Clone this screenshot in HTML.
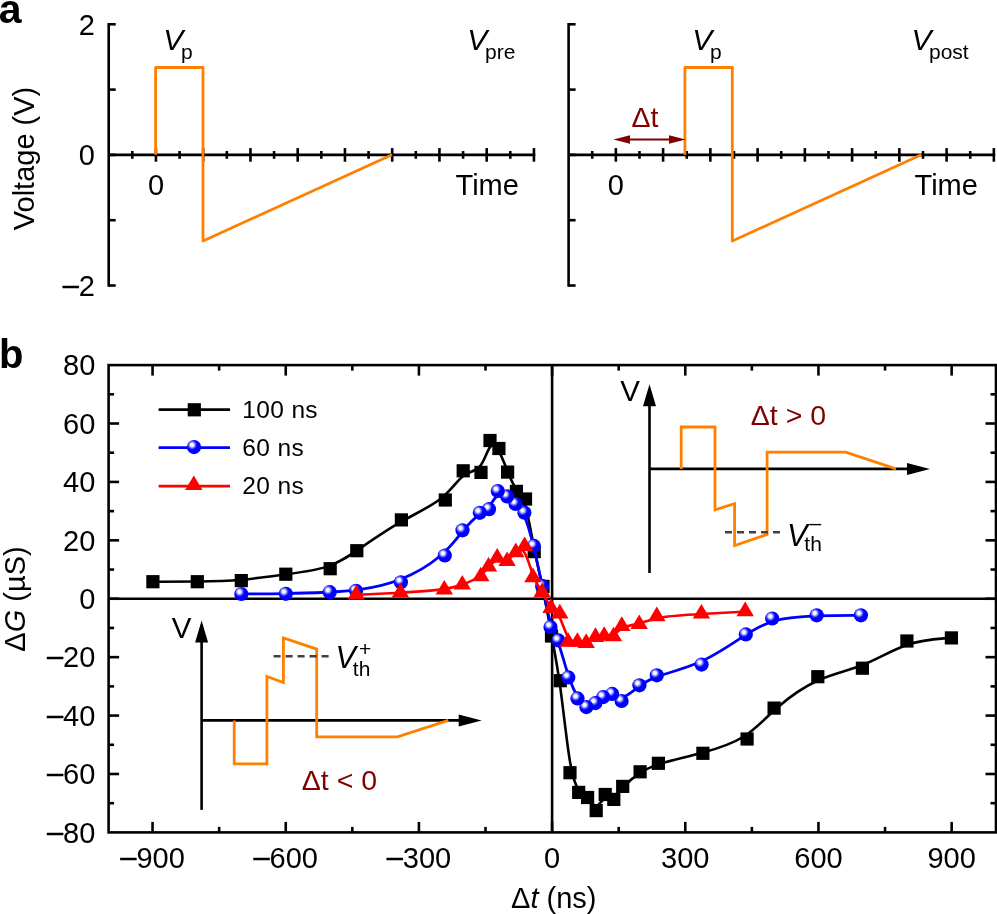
<!DOCTYPE html>
<html><head><meta charset="utf-8"><title>Figure</title>
<style>
html,body{margin:0;padding:0;background:#fff;}
body{width:997px;height:914px;overflow:hidden;}
svg{display:block;font-family:"Liberation Sans", sans-serif;will-change:transform;}
</style></head>
<body>
<svg width="997" height="914" viewBox="0 0 997 914">
<defs>
<radialGradient id="sph" cx="0.38" cy="0.36" r="0.62" fx="0.36" fy="0.34">
<stop offset="0" stop-color="#FFFFFF"/>
<stop offset="0.18" stop-color="#F4F4FF"/>
<stop offset="0.48" stop-color="#2020FF"/>
<stop offset="0.58" stop-color="#0000FF"/>
<stop offset="1" stop-color="#0000FF"/>
</radialGradient>
</defs>
<rect width="997" height="914" fill="#fff"/>
<text x="-1.20" y="23.20" font-size="41" font-weight="bold" fill="#000" >a</text>
<line x1="108.70" y1="23.00" x2="108.70" y2="286.80" stroke="#000" stroke-width="2.6" />
<line x1="108.70" y1="24.30" x2="115.70" y2="24.30" stroke="#000" stroke-width="2.6" />
<line x1="108.70" y1="89.60" x2="115.70" y2="89.60" stroke="#000" stroke-width="2.6" />
<line x1="108.70" y1="154.90" x2="115.70" y2="154.90" stroke="#000" stroke-width="2.6" />
<line x1="108.70" y1="220.20" x2="115.70" y2="220.20" stroke="#000" stroke-width="2.6" />
<line x1="108.70" y1="285.50" x2="115.70" y2="285.50" stroke="#000" stroke-width="2.6" />
<line x1="108.70" y1="154.90" x2="535.25" y2="154.90" stroke="#000" stroke-width="2.6" />
<line x1="155.95" y1="148.10" x2="155.95" y2="161.70" stroke="#000" stroke-width="2.6" />
<line x1="203.20" y1="148.10" x2="203.20" y2="161.70" stroke="#000" stroke-width="2.6" />
<line x1="250.45" y1="148.10" x2="250.45" y2="161.70" stroke="#000" stroke-width="2.6" />
<line x1="297.70" y1="148.10" x2="297.70" y2="161.70" stroke="#000" stroke-width="2.6" />
<line x1="344.95" y1="148.10" x2="344.95" y2="161.70" stroke="#000" stroke-width="2.6" />
<line x1="392.20" y1="148.10" x2="392.20" y2="161.70" stroke="#000" stroke-width="2.6" />
<line x1="439.45" y1="148.10" x2="439.45" y2="161.70" stroke="#000" stroke-width="2.6" />
<line x1="486.70" y1="148.10" x2="486.70" y2="161.70" stroke="#000" stroke-width="2.6" />
<line x1="533.95" y1="148.10" x2="533.95" y2="161.70" stroke="#000" stroke-width="2.6" />
<line x1="132.32" y1="151.00" x2="132.32" y2="158.80" stroke="#000" stroke-width="2.6" />
<line x1="179.57" y1="151.00" x2="179.57" y2="158.80" stroke="#000" stroke-width="2.6" />
<line x1="226.82" y1="151.00" x2="226.82" y2="158.80" stroke="#000" stroke-width="2.6" />
<line x1="274.07" y1="151.00" x2="274.07" y2="158.80" stroke="#000" stroke-width="2.6" />
<line x1="321.32" y1="151.00" x2="321.32" y2="158.80" stroke="#000" stroke-width="2.6" />
<line x1="368.57" y1="151.00" x2="368.57" y2="158.80" stroke="#000" stroke-width="2.6" />
<line x1="415.82" y1="151.00" x2="415.82" y2="158.80" stroke="#000" stroke-width="2.6" />
<line x1="463.07" y1="151.00" x2="463.07" y2="158.80" stroke="#000" stroke-width="2.6" />
<line x1="510.32" y1="151.00" x2="510.32" y2="158.80" stroke="#000" stroke-width="2.6" />
<line x1="568.60" y1="23.00" x2="568.60" y2="286.80" stroke="#000" stroke-width="2.6" />
<line x1="568.60" y1="24.30" x2="575.60" y2="24.30" stroke="#000" stroke-width="2.6" />
<line x1="568.60" y1="89.60" x2="575.60" y2="89.60" stroke="#000" stroke-width="2.6" />
<line x1="568.60" y1="154.90" x2="575.60" y2="154.90" stroke="#000" stroke-width="2.6" />
<line x1="568.60" y1="220.20" x2="575.60" y2="220.20" stroke="#000" stroke-width="2.6" />
<line x1="568.60" y1="285.50" x2="575.60" y2="285.50" stroke="#000" stroke-width="2.6" />
<line x1="568.60" y1="154.90" x2="995.15" y2="154.90" stroke="#000" stroke-width="2.6" />
<line x1="615.85" y1="148.10" x2="615.85" y2="161.70" stroke="#000" stroke-width="2.6" />
<line x1="663.10" y1="148.10" x2="663.10" y2="161.70" stroke="#000" stroke-width="2.6" />
<line x1="710.35" y1="148.10" x2="710.35" y2="161.70" stroke="#000" stroke-width="2.6" />
<line x1="757.60" y1="148.10" x2="757.60" y2="161.70" stroke="#000" stroke-width="2.6" />
<line x1="804.85" y1="148.10" x2="804.85" y2="161.70" stroke="#000" stroke-width="2.6" />
<line x1="852.10" y1="148.10" x2="852.10" y2="161.70" stroke="#000" stroke-width="2.6" />
<line x1="899.35" y1="148.10" x2="899.35" y2="161.70" stroke="#000" stroke-width="2.6" />
<line x1="946.60" y1="148.10" x2="946.60" y2="161.70" stroke="#000" stroke-width="2.6" />
<line x1="993.85" y1="148.10" x2="993.85" y2="161.70" stroke="#000" stroke-width="2.6" />
<line x1="592.23" y1="151.00" x2="592.23" y2="158.80" stroke="#000" stroke-width="2.6" />
<line x1="639.48" y1="151.00" x2="639.48" y2="158.80" stroke="#000" stroke-width="2.6" />
<line x1="686.73" y1="151.00" x2="686.73" y2="158.80" stroke="#000" stroke-width="2.6" />
<line x1="733.98" y1="151.00" x2="733.98" y2="158.80" stroke="#000" stroke-width="2.6" />
<line x1="781.23" y1="151.00" x2="781.23" y2="158.80" stroke="#000" stroke-width="2.6" />
<line x1="828.48" y1="151.00" x2="828.48" y2="158.80" stroke="#000" stroke-width="2.6" />
<line x1="875.73" y1="151.00" x2="875.73" y2="158.80" stroke="#000" stroke-width="2.6" />
<line x1="922.98" y1="151.00" x2="922.98" y2="158.80" stroke="#000" stroke-width="2.6" />
<line x1="970.23" y1="151.00" x2="970.23" y2="158.80" stroke="#000" stroke-width="2.6" />
<text x="95.00" y="34.50" font-size="29" text-anchor="end" fill="#000" >2</text>
<text x="95.00" y="165.20" font-size="29" text-anchor="end" fill="#000" >0</text>
<text x="95.00" y="295.80" font-size="29" text-anchor="end" fill="#000" ><tspan dy="-0.9" stroke="#000" stroke-width="0.45">&#8211;</tspan><tspan dy="0.9">2</tspan></text>
<text transform="translate(34.1,158.5) rotate(-90)" font-size="29" text-anchor="middle">Voltage (V)</text>
<text x="156.00" y="194.80" font-size="29" text-anchor="middle" fill="#000" >0</text>
<text x="615.80" y="194.80" font-size="29" text-anchor="middle" fill="#000" >0</text>
<text x="455.50" y="194.80" font-size="29" fill="#000" >Time</text>
<text x="914.50" y="194.80" font-size="29" fill="#000" >Time</text>
<text x="163.30" y="49.80" font-size="30" font-style="italic">V</text>
<text x="181.00" y="58.50" font-size="21">p</text>
<text x="467.30" y="50.20" font-size="30" font-style="italic">V</text>
<text x="485.00" y="58.90" font-size="21">pre</text>
<text x="692.30" y="49.80" font-size="30" font-style="italic">V</text>
<text x="710.00" y="58.50" font-size="21">p</text>
<text x="911.50" y="50.20" font-size="30" font-style="italic">V</text>
<text x="929.00" y="58.60" font-size="21">post</text>
<path d="M155.60,154.80 L155.60,67.50 L203.00,67.50 L203.00,241.00 L392.00,154.80" fill="none" stroke="#FF8000" stroke-width="2.8" stroke-linejoin="round"/>
<path d="M684.90,154.80 L684.90,67.50 L732.30,67.50 L732.30,241.00 L921.30,154.80" fill="none" stroke="#FF8000" stroke-width="2.8" stroke-linejoin="round"/>
<line x1="622" y1="139.5" x2="677" y2="139.5" stroke="#800000" stroke-width="2"/>
<path d="M613.4,139.5 L630,135.3 L630,143.7 Z" fill="#800000"/>
<path d="M685.6,139.5 L669,135.3 L669,143.7 Z" fill="#800000"/>
<text x="631.50" y="127.00" font-size="28.5" fill="#800000" >&#916;t</text>
<text x="-1.00" y="367.80" font-size="40" font-weight="bold" fill="#000" >b</text>
<rect x="108.6" y="365.1" width="887.4" height="467.29999999999995" fill="none" stroke="#000" stroke-width="2.6"/>
<line x1="152.55" y1="832.40" x2="152.55" y2="821.90" stroke="#000" stroke-width="2.6" />
<line x1="152.55" y1="365.10" x2="152.55" y2="375.60" stroke="#000" stroke-width="2.6" />
<line x1="285.74" y1="832.40" x2="285.74" y2="821.90" stroke="#000" stroke-width="2.6" />
<line x1="285.74" y1="365.10" x2="285.74" y2="375.60" stroke="#000" stroke-width="2.6" />
<line x1="418.92" y1="832.40" x2="418.92" y2="821.90" stroke="#000" stroke-width="2.6" />
<line x1="418.92" y1="365.10" x2="418.92" y2="375.60" stroke="#000" stroke-width="2.6" />
<line x1="552.10" y1="832.40" x2="552.10" y2="821.90" stroke="#000" stroke-width="2.6" />
<line x1="552.10" y1="365.10" x2="552.10" y2="375.60" stroke="#000" stroke-width="2.6" />
<line x1="685.28" y1="832.40" x2="685.28" y2="821.90" stroke="#000" stroke-width="2.6" />
<line x1="685.28" y1="365.10" x2="685.28" y2="375.60" stroke="#000" stroke-width="2.6" />
<line x1="818.46" y1="832.40" x2="818.46" y2="821.90" stroke="#000" stroke-width="2.6" />
<line x1="818.46" y1="365.10" x2="818.46" y2="375.60" stroke="#000" stroke-width="2.6" />
<line x1="951.65" y1="832.40" x2="951.65" y2="821.90" stroke="#000" stroke-width="2.6" />
<line x1="951.65" y1="365.10" x2="951.65" y2="375.60" stroke="#000" stroke-width="2.6" />
<line x1="219.15" y1="832.40" x2="219.15" y2="826.90" stroke="#000" stroke-width="2.6" />
<line x1="219.15" y1="365.10" x2="219.15" y2="370.60" stroke="#000" stroke-width="2.6" />
<line x1="352.33" y1="832.40" x2="352.33" y2="826.90" stroke="#000" stroke-width="2.6" />
<line x1="352.33" y1="365.10" x2="352.33" y2="370.60" stroke="#000" stroke-width="2.6" />
<line x1="485.51" y1="832.40" x2="485.51" y2="826.90" stroke="#000" stroke-width="2.6" />
<line x1="485.51" y1="365.10" x2="485.51" y2="370.60" stroke="#000" stroke-width="2.6" />
<line x1="618.69" y1="832.40" x2="618.69" y2="826.90" stroke="#000" stroke-width="2.6" />
<line x1="618.69" y1="365.10" x2="618.69" y2="370.60" stroke="#000" stroke-width="2.6" />
<line x1="751.87" y1="832.40" x2="751.87" y2="826.90" stroke="#000" stroke-width="2.6" />
<line x1="751.87" y1="365.10" x2="751.87" y2="370.60" stroke="#000" stroke-width="2.6" />
<line x1="885.06" y1="832.40" x2="885.06" y2="826.90" stroke="#000" stroke-width="2.6" />
<line x1="885.06" y1="365.10" x2="885.06" y2="370.60" stroke="#000" stroke-width="2.6" />
<line x1="108.60" y1="773.99" x2="119.10" y2="773.99" stroke="#000" stroke-width="2.6" />
<line x1="996.00" y1="773.99" x2="985.50" y2="773.99" stroke="#000" stroke-width="2.6" />
<line x1="108.60" y1="715.58" x2="119.10" y2="715.58" stroke="#000" stroke-width="2.6" />
<line x1="996.00" y1="715.58" x2="985.50" y2="715.58" stroke="#000" stroke-width="2.6" />
<line x1="108.60" y1="657.16" x2="119.10" y2="657.16" stroke="#000" stroke-width="2.6" />
<line x1="996.00" y1="657.16" x2="985.50" y2="657.16" stroke="#000" stroke-width="2.6" />
<line x1="108.60" y1="598.75" x2="119.10" y2="598.75" stroke="#000" stroke-width="2.6" />
<line x1="996.00" y1="598.75" x2="985.50" y2="598.75" stroke="#000" stroke-width="2.6" />
<line x1="108.60" y1="540.34" x2="119.10" y2="540.34" stroke="#000" stroke-width="2.6" />
<line x1="996.00" y1="540.34" x2="985.50" y2="540.34" stroke="#000" stroke-width="2.6" />
<line x1="108.60" y1="481.93" x2="119.10" y2="481.93" stroke="#000" stroke-width="2.6" />
<line x1="996.00" y1="481.93" x2="985.50" y2="481.93" stroke="#000" stroke-width="2.6" />
<line x1="108.60" y1="423.51" x2="119.10" y2="423.51" stroke="#000" stroke-width="2.6" />
<line x1="996.00" y1="423.51" x2="985.50" y2="423.51" stroke="#000" stroke-width="2.6" />
<line x1="108.60" y1="803.19" x2="114.10" y2="803.19" stroke="#000" stroke-width="2.6" />
<line x1="996.00" y1="803.19" x2="990.50" y2="803.19" stroke="#000" stroke-width="2.6" />
<line x1="108.60" y1="744.78" x2="114.10" y2="744.78" stroke="#000" stroke-width="2.6" />
<line x1="996.00" y1="744.78" x2="990.50" y2="744.78" stroke="#000" stroke-width="2.6" />
<line x1="108.60" y1="686.37" x2="114.10" y2="686.37" stroke="#000" stroke-width="2.6" />
<line x1="996.00" y1="686.37" x2="990.50" y2="686.37" stroke="#000" stroke-width="2.6" />
<line x1="108.60" y1="627.96" x2="114.10" y2="627.96" stroke="#000" stroke-width="2.6" />
<line x1="996.00" y1="627.96" x2="990.50" y2="627.96" stroke="#000" stroke-width="2.6" />
<line x1="108.60" y1="569.54" x2="114.10" y2="569.54" stroke="#000" stroke-width="2.6" />
<line x1="996.00" y1="569.54" x2="990.50" y2="569.54" stroke="#000" stroke-width="2.6" />
<line x1="108.60" y1="511.13" x2="114.10" y2="511.13" stroke="#000" stroke-width="2.6" />
<line x1="996.00" y1="511.13" x2="990.50" y2="511.13" stroke="#000" stroke-width="2.6" />
<line x1="108.60" y1="452.72" x2="114.10" y2="452.72" stroke="#000" stroke-width="2.6" />
<line x1="996.00" y1="452.72" x2="990.50" y2="452.72" stroke="#000" stroke-width="2.6" />
<line x1="108.60" y1="394.31" x2="114.10" y2="394.31" stroke="#000" stroke-width="2.6" />
<line x1="996.00" y1="394.31" x2="990.50" y2="394.31" stroke="#000" stroke-width="2.6" />
<line x1="552.10" y1="365.10" x2="552.10" y2="832.40" stroke="#000" stroke-width="2.6" />
<line x1="108.60" y1="598.75" x2="996.00" y2="598.75" stroke="#000" stroke-width="2.6" />
<text x="95.30" y="842.60" font-size="29" text-anchor="end" fill="#000" ><tspan dy="-0.9" stroke="#000" stroke-width="0.45">&#8211;</tspan><tspan dy="0.9">80</tspan></text>
<text x="95.30" y="784.19" font-size="29" text-anchor="end" fill="#000" ><tspan dy="-0.9" stroke="#000" stroke-width="0.45">&#8211;</tspan><tspan dy="0.9">60</tspan></text>
<text x="95.30" y="725.78" font-size="29" text-anchor="end" fill="#000" ><tspan dy="-0.9" stroke="#000" stroke-width="0.45">&#8211;</tspan><tspan dy="0.9">40</tspan></text>
<text x="95.30" y="667.36" font-size="29" text-anchor="end" fill="#000" ><tspan dy="-0.9" stroke="#000" stroke-width="0.45">&#8211;</tspan><tspan dy="0.9">20</tspan></text>
<text x="95.30" y="608.95" font-size="29" text-anchor="end" fill="#000" >0</text>
<text x="95.30" y="550.54" font-size="29" text-anchor="end" fill="#000" >20</text>
<text x="95.30" y="492.12" font-size="29" text-anchor="end" fill="#000" >40</text>
<text x="95.30" y="433.71" font-size="29" text-anchor="end" fill="#000" >60</text>
<text x="95.30" y="375.30" font-size="29" text-anchor="end" fill="#000" >80</text>
<text x="152.55" y="867.80" font-size="29" text-anchor="middle" fill="#000" ><tspan dy="-0.9" stroke="#000" stroke-width="0.45">&#8211;</tspan><tspan dy="0.9">900</tspan></text>
<text x="285.74" y="867.80" font-size="29" text-anchor="middle" fill="#000" ><tspan dy="-0.9" stroke="#000" stroke-width="0.45">&#8211;</tspan><tspan dy="0.9">600</tspan></text>
<text x="418.92" y="867.80" font-size="29" text-anchor="middle" fill="#000" ><tspan dy="-0.9" stroke="#000" stroke-width="0.45">&#8211;</tspan><tspan dy="0.9">300</tspan></text>
<text x="552.10" y="867.80" font-size="29" text-anchor="middle" fill="#000" >0</text>
<text x="685.28" y="867.80" font-size="29" text-anchor="middle" fill="#000" >300</text>
<text x="818.46" y="867.80" font-size="29" text-anchor="middle" fill="#000" >600</text>
<text x="951.65" y="867.80" font-size="29" text-anchor="middle" fill="#000" >900</text>
<text x="511" y="907.5" font-size="29">&#916;<tspan font-style="italic">t</tspan> (ns)</text>
<text transform="translate(24.5,599) rotate(-90)" font-size="29" text-anchor="middle">&#916;<tspan font-style="italic">G</tspan> (&#181;S)</text>
<path d="M152.90,581.70 C152.90,581.70 152.90,581.70 160.30,581.70 C167.70,581.70 182.50,581.70 197.23,581.52 C211.97,581.33 226.63,580.97 241.38,579.72 C256.13,578.47 270.97,576.33 285.78,574.35 C300.60,572.37 315.40,570.53 327.23,566.62 C339.07,562.70 347.93,556.70 359.80,548.57 C371.67,540.43 386.53,530.17 401.28,521.72 C416.03,513.27 430.67,506.63 440.97,498.45 C451.27,490.27 457.23,480.53 463.18,475.93 C469.13,471.33 475.07,471.87 479.53,466.82 C484.00,461.77 487.00,451.13 489.98,447.15 C492.97,443.17 495.93,445.83 498.87,451.10 C501.80,456.37 504.70,464.23 507.62,471.38 C510.53,478.53 513.47,484.97 516.45,489.45 C519.43,493.93 522.47,496.47 525.43,506.50 C528.40,516.53 531.30,534.07 534.22,548.63 C537.13,563.20 540.07,574.80 542.95,588.87 C545.83,602.93 548.67,619.47 551.55,635.18 C554.43,650.90 557.37,665.80 560.45,688.58 C563.53,711.37 566.77,742.03 569.83,760.65 C572.90,779.27 575.80,785.83 578.73,789.97 C581.67,794.10 584.63,795.80 587.55,798.83 C590.47,801.87 593.33,806.23 596.27,805.73 C599.20,805.23 602.20,799.87 605.13,798.00 C608.07,796.13 610.93,797.77 613.85,796.42 C616.77,795.07 619.73,790.73 624.12,786.13 C628.50,781.53 634.30,776.67 640.25,772.82 C646.20,768.97 652.30,766.13 662.77,763.05 C673.23,759.97 688.07,756.63 702.85,752.58 C717.63,748.53 732.37,743.77 744.23,736.23 C756.10,728.70 765.10,718.40 776.88,708.02 C788.67,697.63 803.23,687.17 817.95,680.52 C832.67,673.87 847.53,671.03 862.38,665.08 C877.23,659.13 892.07,650.07 906.90,645.02 C921.73,639.97 936.57,638.93 943.98,638.42 C951.40,637.90 951.40,637.90 951.40,637.90" fill="none" stroke="#000" stroke-width="2.6"/>
<rect x="944.80" y="631.30" width="13.2" height="13.2" fill="#000"/>
<rect x="900.30" y="634.40" width="13.2" height="13.2" fill="#000"/>
<rect x="855.80" y="661.60" width="13.2" height="13.2" fill="#000"/>
<rect x="811.20" y="670.10" width="13.2" height="13.2" fill="#000"/>
<rect x="767.50" y="701.50" width="13.2" height="13.2" fill="#000"/>
<rect x="740.50" y="732.40" width="13.2" height="13.2" fill="#000"/>
<rect x="696.30" y="746.70" width="13.2" height="13.2" fill="#000"/>
<rect x="651.80" y="756.70" width="13.2" height="13.2" fill="#000"/>
<rect x="633.50" y="765.20" width="13.2" height="13.2" fill="#000"/>
<rect x="616.10" y="779.80" width="13.2" height="13.2" fill="#000"/>
<rect x="607.20" y="792.80" width="13.2" height="13.2" fill="#000"/>
<rect x="598.60" y="787.90" width="13.2" height="13.2" fill="#000"/>
<rect x="589.60" y="804.00" width="13.2" height="13.2" fill="#000"/>
<rect x="581.00" y="790.90" width="13.2" height="13.2" fill="#000"/>
<rect x="572.10" y="785.80" width="13.2" height="13.2" fill="#000"/>
<rect x="563.40" y="766.10" width="13.2" height="13.2" fill="#000"/>
<rect x="553.70" y="674.10" width="13.2" height="13.2" fill="#000"/>
<rect x="544.90" y="629.40" width="13.2" height="13.2" fill="#000"/>
<rect x="536.40" y="579.80" width="13.2" height="13.2" fill="#000"/>
<rect x="527.60" y="545.00" width="13.2" height="13.2" fill="#000"/>
<rect x="518.90" y="492.40" width="13.2" height="13.2" fill="#000"/>
<rect x="509.80" y="484.80" width="13.2" height="13.2" fill="#000"/>
<rect x="501.00" y="465.50" width="13.2" height="13.2" fill="#000"/>
<rect x="492.30" y="441.90" width="13.2" height="13.2" fill="#000"/>
<rect x="483.40" y="433.90" width="13.2" height="13.2" fill="#000"/>
<rect x="474.40" y="465.80" width="13.2" height="13.2" fill="#000"/>
<rect x="456.60" y="464.20" width="13.2" height="13.2" fill="#000"/>
<rect x="438.70" y="493.40" width="13.2" height="13.2" fill="#000"/>
<rect x="394.80" y="513.30" width="13.2" height="13.2" fill="#000"/>
<rect x="350.20" y="544.10" width="13.2" height="13.2" fill="#000"/>
<rect x="323.60" y="562.10" width="13.2" height="13.2" fill="#000"/>
<rect x="279.20" y="567.60" width="13.2" height="13.2" fill="#000"/>
<rect x="234.70" y="574.00" width="13.2" height="13.2" fill="#000"/>
<rect x="190.70" y="575.10" width="13.2" height="13.2" fill="#000"/>
<rect x="146.30" y="575.10" width="13.2" height="13.2" fill="#000"/>
<path d="M241.30,594.00 C241.30,594.00 241.30,594.00 248.72,593.97 C256.13,593.93 270.97,593.87 285.70,593.57 C300.43,593.27 315.07,592.73 326.77,592.23 C338.47,591.73 347.23,591.27 359.10,589.62 C370.97,587.97 385.93,585.13 400.73,579.25 C415.53,573.37 430.17,564.43 440.43,555.77 C450.70,547.10 456.60,538.70 462.43,531.58 C468.27,524.47 474.03,518.63 478.45,515.12 C482.87,511.60 485.93,510.40 488.93,506.78 C491.93,503.17 494.87,497.13 497.88,495.00 C500.90,492.87 504.00,494.63 506.97,496.78 C509.93,498.93 512.77,501.47 515.65,504.18 C518.53,506.90 521.47,509.80 524.52,516.78 C527.57,523.77 530.73,534.83 533.68,547.03 C536.63,559.23 539.37,572.57 542.13,586.08 C544.90,599.60 547.70,613.30 550.42,622.38 C553.13,631.47 555.77,635.93 558.73,644.33 C561.70,652.73 565.00,665.07 568.18,674.73 C571.37,684.40 574.43,691.40 577.45,696.35 C580.47,701.30 583.43,704.20 586.42,704.98 C589.40,705.77 592.40,704.43 595.20,702.77 C598.00,701.10 600.60,699.10 603.40,697.57 C606.20,696.03 609.20,694.97 612.27,695.62 C615.33,696.27 618.47,698.63 623.00,697.20 C627.53,695.77 633.47,690.53 639.33,686.25 C645.20,681.97 651.00,678.63 661.37,675.18 C671.73,671.73 686.67,668.17 701.50,661.35 C716.33,654.53 731.07,644.47 742.83,636.78 C754.60,629.10 763.40,623.80 775.22,620.62 C787.03,617.43 801.87,616.37 816.65,615.83 C831.43,615.30 846.17,615.30 853.53,615.30 C860.90,615.30 860.90,615.30 860.90,615.30" fill="none" stroke="#0000FF" stroke-width="2.8"/>
<circle cx="860.90" cy="615.30" r="7.1" fill="url(#sph)"/>
<circle cx="816.70" cy="615.30" r="7.1" fill="url(#sph)"/>
<circle cx="772.20" cy="618.50" r="7.1" fill="url(#sph)"/>
<circle cx="745.80" cy="634.40" r="7.1" fill="url(#sph)"/>
<circle cx="701.60" cy="664.60" r="7.1" fill="url(#sph)"/>
<circle cx="656.80" cy="675.30" r="7.1" fill="url(#sph)"/>
<circle cx="639.40" cy="685.30" r="7.1" fill="url(#sph)"/>
<circle cx="621.60" cy="701.00" r="7.1" fill="url(#sph)"/>
<circle cx="612.20" cy="693.90" r="7.1" fill="url(#sph)"/>
<circle cx="603.20" cy="697.10" r="7.1" fill="url(#sph)"/>
<circle cx="595.40" cy="703.10" r="7.1" fill="url(#sph)"/>
<circle cx="586.40" cy="707.10" r="7.1" fill="url(#sph)"/>
<circle cx="577.50" cy="698.40" r="7.1" fill="url(#sph)"/>
<circle cx="568.30" cy="677.40" r="7.1" fill="url(#sph)"/>
<circle cx="558.40" cy="640.40" r="7.1" fill="url(#sph)"/>
<circle cx="550.50" cy="627.00" r="7.1" fill="url(#sph)"/>
<circle cx="542.10" cy="585.90" r="7.1" fill="url(#sph)"/>
<circle cx="533.90" cy="545.90" r="7.1" fill="url(#sph)"/>
<circle cx="524.40" cy="512.70" r="7.1" fill="url(#sph)"/>
<circle cx="515.60" cy="504.00" r="7.1" fill="url(#sph)"/>
<circle cx="507.10" cy="496.40" r="7.1" fill="url(#sph)"/>
<circle cx="497.80" cy="491.10" r="7.1" fill="url(#sph)"/>
<circle cx="489.00" cy="509.20" r="7.1" fill="url(#sph)"/>
<circle cx="479.80" cy="512.80" r="7.1" fill="url(#sph)"/>
<circle cx="462.50" cy="530.30" r="7.1" fill="url(#sph)"/>
<circle cx="444.80" cy="555.50" r="7.1" fill="url(#sph)"/>
<circle cx="400.90" cy="582.30" r="7.1" fill="url(#sph)"/>
<circle cx="356.00" cy="590.80" r="7.1" fill="url(#sph)"/>
<circle cx="329.70" cy="592.20" r="7.1" fill="url(#sph)"/>
<circle cx="285.80" cy="593.80" r="7.1" fill="url(#sph)"/>
<circle cx="241.30" cy="594.00" r="7.1" fill="url(#sph)"/>
<path d="M356.30,594.80 C356.30,594.80 356.30,594.80 363.65,594.47 C371.00,594.13 385.70,593.47 400.37,592.67 C415.03,591.87 429.67,590.93 439.98,589.63 C450.30,588.33 456.30,586.67 462.38,584.45 C468.47,582.23 474.63,579.47 479.00,576.45 C483.37,573.43 485.93,570.17 488.67,567.07 C491.40,563.97 494.30,561.03 497.40,560.12 C500.50,559.20 503.80,560.30 506.90,559.38 C510.00,558.47 512.90,555.53 515.82,553.05 C518.73,550.57 521.67,548.53 524.52,552.70 C527.37,556.87 530.13,567.23 533.05,574.92 C535.97,582.60 539.03,587.60 542.05,592.72 C545.07,597.83 548.03,603.07 550.98,606.60 C553.93,610.13 556.87,611.97 559.72,617.62 C562.57,623.27 565.33,632.73 568.27,637.47 C571.20,642.20 574.30,642.20 577.32,642.38 C580.33,642.57 583.27,642.93 586.28,642.12 C589.30,641.30 592.40,639.30 595.40,638.12 C598.40,636.93 601.30,636.57 604.30,636.47 C607.30,636.37 610.40,636.53 613.33,634.88 C616.27,633.23 619.03,629.77 623.32,627.72 C627.60,625.67 633.40,625.03 639.23,623.42 C645.07,621.80 650.93,619.20 661.30,617.45 C671.67,615.70 686.53,614.80 701.27,613.97 C716.00,613.13 730.60,612.37 737.90,611.98 C745.20,611.60 745.20,611.60 745.20,611.60" fill="none" stroke="#FF0000" stroke-width="2.6"/>
<path d="M745.20,601.60 L753.90,616.20 L736.50,616.20 Z" fill="#FF0000"/>
<path d="M701.40,603.90 L710.10,618.50 L692.70,618.50 Z" fill="#FF0000"/>
<path d="M656.80,606.60 L665.50,621.20 L648.10,621.20 Z" fill="#FF0000"/>
<path d="M639.20,614.40 L647.90,629.00 L630.50,629.00 Z" fill="#FF0000"/>
<path d="M621.80,616.30 L630.50,630.90 L613.10,630.90 Z" fill="#FF0000"/>
<path d="M613.50,626.70 L622.20,641.30 L604.80,641.30 Z" fill="#FF0000"/>
<path d="M604.20,626.20 L612.90,640.80 L595.50,640.80 Z" fill="#FF0000"/>
<path d="M595.50,627.30 L604.20,641.90 L586.80,641.90 Z" fill="#FF0000"/>
<path d="M586.20,633.30 L594.90,647.90 L577.50,647.90 Z" fill="#FF0000"/>
<path d="M577.40,632.20 L586.10,646.80 L568.70,646.80 Z" fill="#FF0000"/>
<path d="M568.10,632.20 L576.80,646.80 L559.40,646.80 Z" fill="#FF0000"/>
<path d="M559.80,603.80 L568.50,618.40 L551.10,618.40 Z" fill="#FF0000"/>
<path d="M551.00,598.30 L559.70,612.90 L542.30,612.90 Z" fill="#FF0000"/>
<path d="M542.10,582.60 L550.80,597.20 L533.40,597.20 Z" fill="#FF0000"/>
<path d="M532.90,567.60 L541.60,582.20 L524.20,582.20 Z" fill="#FF0000"/>
<path d="M524.60,536.50 L533.30,551.10 L515.90,551.10 Z" fill="#FF0000"/>
<path d="M515.80,542.60 L524.50,557.20 L507.10,557.20 Z" fill="#FF0000"/>
<path d="M507.10,551.40 L515.80,566.00 L498.40,566.00 Z" fill="#FF0000"/>
<path d="M497.20,548.10 L505.90,562.70 L488.50,562.70 Z" fill="#FF0000"/>
<path d="M488.50,556.90 L497.20,571.50 L479.80,571.50 Z" fill="#FF0000"/>
<path d="M480.80,566.70 L489.50,581.30 L472.10,581.30 Z" fill="#FF0000"/>
<path d="M462.30,575.00 L471.00,589.60 L453.60,589.60 Z" fill="#FF0000"/>
<path d="M444.30,580.00 L453.00,594.60 L435.60,594.60 Z" fill="#FF0000"/>
<path d="M400.40,582.80 L409.10,597.40 L391.70,597.40 Z" fill="#FF0000"/>
<path d="M356.30,584.80 L365.00,599.40 L347.60,599.40 Z" fill="#FF0000"/>
<line x1="158.60" y1="409.60" x2="230.00" y2="409.60" stroke="#000" stroke-width="2.6" />
<rect x="187.70" y="403.20" width="13.2" height="13.2" fill="#000"/>
<line x1="158.60" y1="447.60" x2="230.00" y2="447.60" stroke="#0000FF" stroke-width="2.8" />
<circle cx="194.00" cy="447.10" r="7.1" fill="url(#sph)"/>
<line x1="158.60" y1="486.20" x2="230.00" y2="486.20" stroke="#FF0000" stroke-width="2.8" />
<path d="M193.80,475.40 L202.50,490.00 L185.10,490.00 Z" fill="#FF0000"/>
<text x="242.30" y="418.20" font-size="24.5" fill="#000" letter-spacing="0.35">100 ns</text>
<text x="242.30" y="455.80" font-size="24.5" fill="#000" letter-spacing="0.35">60 ns</text>
<text x="242.30" y="494.40" font-size="24.5" fill="#000" letter-spacing="0.35">20 ns</text>
<line x1="649.5" y1="402.3" x2="649.5" y2="573" stroke="#000" stroke-width="2.6"/>
<path d="M649.5,384.3 L656.0,406.3 L643.0,406.3 Z" fill="#000"/>
<line x1="649.5" y1="468.9" x2="912" y2="468.9" stroke="#000" stroke-width="2.6"/>
<path d="M930,468.9 L907,462.9 L907,474.9 Z" fill="#000"/>
<text x="620.30" y="401.30" font-size="29.5" fill="#000" >V</text>
<path d="M681.20,468.90 L681.20,427.00 L715.00,427.00 L715.00,509.80 L734.60,503.70 L734.60,545.60 L767.10,534.40 L767.10,452.20 L845.60,452.20 L896.00,468.90" fill="none" stroke="#FF8000" stroke-width="2.8" stroke-linejoin="miter"/>
<line x1="725" y1="532.2" x2="780.1" y2="532.2" stroke="#404040" stroke-width="2.4" stroke-dasharray="7,5"/>
<text x="787.00" y="545.60" font-size="30.5" font-style="italic">V</text>
<text x="804.30" y="551.10" font-size="21">th</text>
<text x="809.50" y="529.60" font-size="21">&#8211;</text>
<text x="750.80" y="425.30" font-size="28.5" fill="#800000" >&#916;t &gt; 0</text>
<line x1="201.6" y1="638.4" x2="201.6" y2="809.9" stroke="#000" stroke-width="2.6"/>
<path d="M201.6,620.4 L208.1,642.4 L195.1,642.4 Z" fill="#000"/>
<line x1="201.6" y1="720.4" x2="463.7" y2="720.4" stroke="#000" stroke-width="2.6"/>
<path d="M481.7,720.4 L458.7,714.4 L458.7,726.4 Z" fill="#000"/>
<text x="171.80" y="637.50" font-size="29.5" fill="#000" >V</text>
<path d="M234.20,720.40 L234.20,763.90 L266.90,763.90 L266.90,676.50 L283.40,682.50 L283.40,637.90 L316.70,649.10 L316.70,736.90 L397.50,736.90 L448.30,720.40" fill="none" stroke="#FF8000" stroke-width="2.8" stroke-linejoin="miter"/>
<line x1="273.6" y1="656.2" x2="329" y2="656.2" stroke="#404040" stroke-width="2.4" stroke-dasharray="7,5"/>
<text x="335.50" y="668.40" font-size="30.5" font-style="italic">V</text>
<text x="352.80" y="676.40" font-size="21">th</text>
<text x="359.00" y="656.40" font-size="21">+</text>
<text x="301.80" y="790.20" font-size="28.5" fill="#800000" >&#916;t &lt; 0</text>
</svg>
</body></html>
